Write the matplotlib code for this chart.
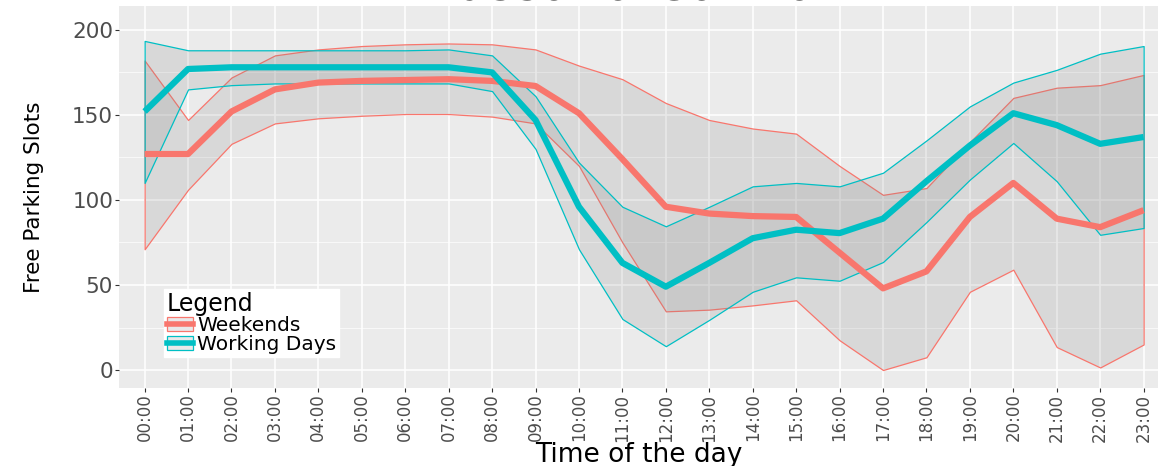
import matplotlib
matplotlib.use("Agg")
import matplotlib.pyplot as plt
from matplotlib.patches import Patch
from matplotlib.lines import Line2D
from matplotlib.ticker import MultipleLocator

hours = list(range(24))
hour_labels = ["00:00", "01:00", "02:00", "03:00", "04:00", "05:00", "06:00", "07:00",
               "08:00", "09:00", "10:00", "11:00", "12:00", "13:00", "14:00", "15:00",
               "16:00", "17:00", "18:00", "19:00", "20:00", "21:00", "22:00", "23:00"]

weekend_mean = [127, 127, 152, 165, 169, 170, 170.5, 171, 170, 167, 151, 124,
                96, 92, 90.5, 90, 69, 48, 58, 90, 110, 89, 84, 94]
weekend_upper = [182, 147, 172, 185, 188.5, 190.5, 191.5, 192, 191.5, 188.5, 179, 171,
                 157, 147, 142, 139, 120, 103, 107, 134, 160, 166, 167.5, 173.5]
weekend_lower = [71, 106, 133, 145, 148, 149.5, 150.5, 150.5, 149, 145, 120, 75,
                 34.5, 35.5, 38, 41, 17.5, 0, 7.5, 46, 59, 13.5, 1.5, 15]

work_mean = [152, 177, 178, 178, 178, 178, 178, 178, 175, 147, 96, 63,
             49, 63, 77.5, 82.5, 80.5, 89, 111, 132, 151, 144, 133, 137]
work_upper = [193.5, 188, 188, 188, 188, 188, 188, 188.5, 185, 161, 122, 96,
              84.5, 96, 108, 110, 108, 116, 135, 155, 169, 176.5, 186, 190.5]
work_lower = [110, 165, 167.5, 168.5, 168.5, 168.5, 168.5, 168.5, 164, 130, 71, 30,
              14, 29.5, 46, 54.5, 52.5, 63.5, 87, 112, 133.5, 111, 79.5, 83.5]

y_ticks = [0, 50, 100, 150, 200]

RED = "#F8766D"
TEAL = "#00BFC4"
FILL = (0.5, 0.5, 0.5, 0.17)

fig = plt.figure(figsize=(11.7, 4.66), dpi=100)
ax = fig.add_axes([0.1017, 0.168, 0.888, 0.819])
ax.set_facecolor("#EBEBEB")
for s in ax.spines.values():
    s.set_visible(False)

ax.fill_between(hours, weekend_lower, weekend_upper, facecolor=FILL, edgecolor=RED,
                linewidth=0.9, zorder=2)
ax.fill_between(hours, work_lower, work_upper, facecolor=FILL, edgecolor=TEAL,
                linewidth=0.9, zorder=2)
ax.plot(hours, weekend_mean, color=RED, linewidth=4.5, solid_capstyle="butt", zorder=3)
ax.plot(hours, work_mean, color=TEAL, linewidth=4.5, solid_capstyle="butt", zorder=3)

ax.set_xlim(-0.59, 23.33)
ax.set_ylim(-10.4, 214)
ax.set_xticks(hours)
ax.set_xticklabels(hour_labels, rotation=90, fontsize=12, color="#4D4D4D")
ax.set_yticks(y_ticks)
ax.set_yticklabels([str(v) for v in y_ticks], fontsize=15.5, color="#4D4D4D")
ax.yaxis.set_minor_locator(MultipleLocator(25))
ax.tick_params(axis="both", which="major", length=2.75, width=0.8, color="#333333", pad=1.5)
ax.tick_params(axis="y", which="minor", length=0)
ax.grid(which="major", color="white", linewidth=1.1, zorder=0)
ax.grid(which="minor", axis="y", color="white", linewidth=0.5, zorder=0)
ax.set_axisbelow(True)

ax.set_ylabel("Free Parking Slots", fontsize=15.5, labelpad=20)
ax.set_xlabel("Time of the day", fontsize=19, labelpad=0)

fig.text(0.551, 1.002, "Bussana Car Park", ha="center", va="baseline", fontsize=37)

h1 = (Patch(facecolor=FILL, edgecolor=RED, linewidth=0.9),
      Line2D([], [], color=RED, linewidth=4))
h2 = (Patch(facecolor=FILL, edgecolor=TEAL, linewidth=0.9),
      Line2D([], [], color=TEAL, linewidth=4))
leg = ax.legend([h1, h2], ["Weekends", "Working Days"], title="Legend",
                loc="lower left", bbox_to_anchor=(0.043, 0.08), borderaxespad=0,
                fontsize=14.5, title_fontsize=17, frameon=True, fancybox=False,
                handlelength=1.3, handleheight=0.7, handletextpad=0.2,
                labelspacing=0.0, borderpad=0.15, alignment="left")
leg.get_frame().set_facecolor("white")
leg.get_frame().set_edgecolor("white")
leg.get_frame().set_alpha(1)
leg.set_zorder(5)

fig.savefig("out.png", dpi=100)
